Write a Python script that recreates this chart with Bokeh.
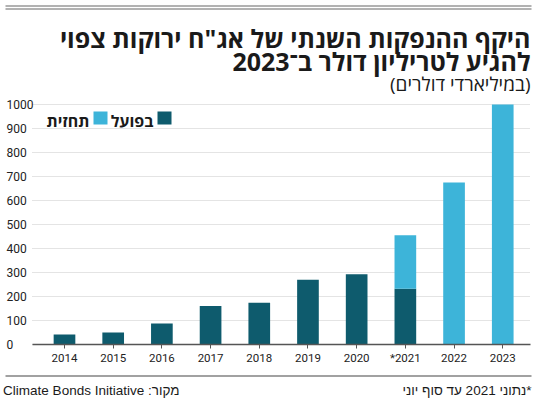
from bokeh.plotting import figure
from bokeh.models import (Range1d, FixedTicker, Label, BoxAnnotation, ColumnDataSource,
                          LinearAxis, Grid)
from bokeh.embed import file_html
from bokeh.resources import INLINE

years = ["2014", "2015", "2016", "2017", "2018", "2019", "2020", "*2021", "2022", "2023"]
actual = [42, 50, 87, 160, 174, 270, 293, 232, 0, 0]
forecast = [0, 0, 0, 0, 0, 0, 0, 223, 675, 1000]
y_ticks = [0, 100, 200, 300, 400, 500, 600, 700, 800, 900, 1000]

title_1 = "היקף ההנפקות השנתי של אג\"ח ירוקות צפוי"
title_2 = "להגיע לטריליון דולר ב־2023"
subtitle = "(במיליארדי דולרים)"
legend_actual = "בפועל"
legend_forecast = "תחזית"
source_note = "מקור: Climate Bonds Initiative"
footnote = "*נתוני 2021 עד סוף יוני"

DARK = "#0e5b6d"
LIGHT = "#3db4d9"
RLE, PDF = "\u202b", "\u202c"

W, H = 550, 399
# plot area on the page (pixels)
PL, PR, PT, PB = 32, 530, 104, 344
X_LO, X_HI = -0.657, len(years) - 1 + 0.57
Y_LO, Y_HI = 0, max(y_ticks)
# extend ranges so that the frame fills the canvas
kx = (X_HI - X_LO) / (PR - PL)
ky = (Y_HI - Y_LO) / (PB - PT)
x_range = Range1d(X_LO - PL * kx, X_HI + (W - PR) * kx)
y_range = Range1d(Y_LO - (H - PB) * ky, Y_HI + PT * ky)


def sx(px):
    return px


def sy(py):
    return H - py


xs = list(range(len(years)))
src = ColumnDataSource(dict(x=xs, actual=actual, forecast=forecast))

p = figure(width=W, height=H, output_backend="svg", toolbar_location=None,
           x_range=x_range, y_range=y_range,
           x_axis_location=None, y_axis_location=None,
           min_border_left=0, min_border_right=0, min_border_top=0, min_border_bottom=0)
p.title.visible = False
p.outline_line_color = None
p.background_fill_color = "white"
p.border_fill_color = "white"
p.xgrid.visible = False
p.ygrid.visible = False

grid = Grid(dimension=1, ticker=FixedTicker(ticks=y_ticks), cross_bounds=(X_LO, X_HI),
            grid_line_color="#c8c8c8", grid_line_dash="1 1", grid_line_width=1)
p.add_layout(grid)

p.vbar_stack(["actual", "forecast"], x="x", width=0.445, source=src,
             color=[DARK, LIGHT], line_color=None)

xa = LinearAxis(fixed_location=Y_LO, bounds=(X_LO, X_HI), ticker=FixedTicker(ticks=xs))
xa.major_label_overrides = {i: y for i, y in enumerate(years)}
xa.axis_line_color = "#555555"
xa.axis_line_width = 1.5
xa.major_tick_line_color = "#555555"
xa.major_tick_in = 0
xa.major_tick_out = 4
xa.minor_tick_line_color = None
xa.major_label_text_font = "Roboto"
xa.major_label_text_font_size = "11.5px"
xa.major_label_text_color = "#222222"
xa.major_label_standoff = 2
p.add_layout(xa, "below")

for t in y_ticks:
    p.add_layout(Label(x=sx(6), y=t, x_units="screen", y_units="data", text=str(t),
                       text_font="Roboto", text_font_size="12px", text_color="#222222",
                       text_align="left", text_baseline="middle"))


def hline(py, color):
    p.add_layout(BoxAnnotation(left=sx(5), right=sx(531), top=sy(py), bottom=sy(py + 1),
                               left_units="screen", right_units="screen",
                               top_units="screen", bottom_units="screen",
                               fill_color=color, fill_alpha=1, line_color=None))


hline(5, "#666666")
hline(8, "#666666")
hline(375, "#444444")


def lab(text, x, y, size, bold=False, font="Open Sans", align="right", color="#1a1a1a"):
    p.add_layout(Label(x=sx(x), y=sy(y), x_units="screen", y_units="screen", text=text,
                       text_font=font, text_font_size=size,
                       text_font_style="bold" if bold else "normal",
                       text_color=color, text_align=align, text_baseline="alphabetic"))


lab(RLE + title_1 + PDF, 530, 37, "25px", bold=True)
lab(RLE + title_2 + PDF, 530, 60, "25px", bold=True)
lab(RLE + subtitle + PDF, 530, 83, "19px")
lab(RLE + source_note + PDF, 179, 390, "13.5px", font="Liberation Sans")
lab(RLE + footnote + PDF, 531, 390, "13.5px", font="Liberation Sans")

# legend
for (x0, x1, c) in ((157, 171, DARK), (93, 107, LIGHT)):
    p.add_layout(BoxAnnotation(left=sx(x0), right=sx(x1), top=sy(111), bottom=sy(124),
                               left_units="screen", right_units="screen",
                               top_units="screen", bottom_units="screen",
                               fill_color=c, fill_alpha=1, line_color=None))
lab(RLE + legend_actual + PDF, 153, 120, "16px", bold=True)
lab(RLE + legend_forecast + PDF, 89, 120, "16px", bold=True)

open("out.html", "w").write(file_html(p, INLINE))
